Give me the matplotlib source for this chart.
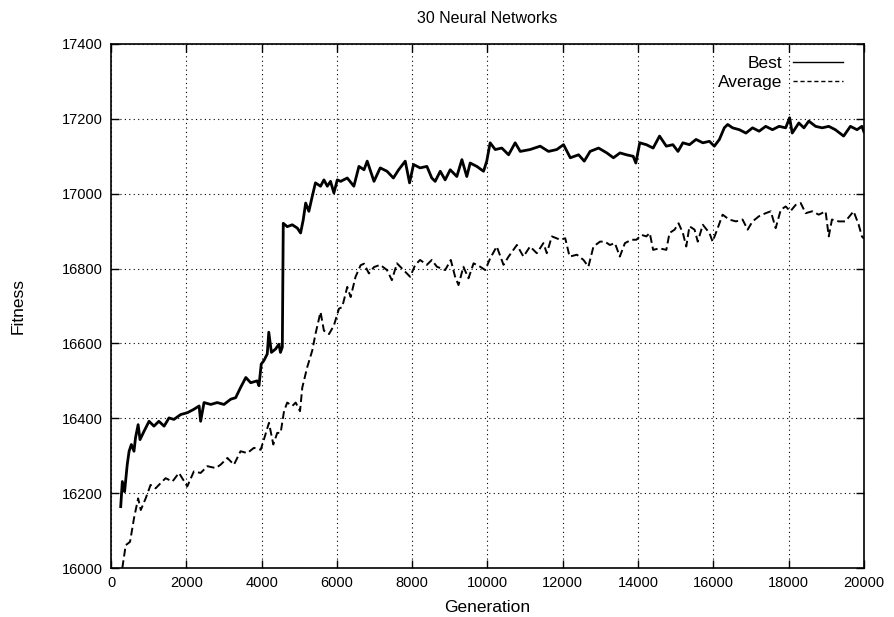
import matplotlib
matplotlib.use('Agg')
import matplotlib.pyplot as plt
from matplotlib.lines import Line2D

plt.rcParams['font.family'] = ['Liberation Sans', 'DejaVu Sans']

# Best fitness
best_gen = [257, 300, 360, 430, 480, 540, 610, 650, 720, 770, 880, 1010, 1140, 1270,
            1410, 1540, 1670, 1850, 2030, 2200, 2340, 2380, 2470, 2650, 2820, 3000,
            3180, 3310, 3440, 3580, 3710, 3880, 3930, 3990, 4060, 4150, 4190, 4260,
            4370, 4460, 4500, 4550, 4575, 4680, 4815, 4950, 5035, 5105, 5170, 5255,
            5345, 5430, 5565, 5655, 5745, 5830, 5920, 6010, 6100, 6275, 6450, 6585,
            6720, 6805, 6895, 6985, 7150, 7330, 7500, 7640, 7815, 7930, 8035, 8210,
            8390, 8520, 8610, 8745, 8875, 9010, 9185, 9320, 9450, 9540, 9715, 9895,
            9980, 10070, 10205, 10380, 10560, 10735, 10870, 11130, 11400, 11620,
            11840, 12020, 12200, 12420, 12570, 12725, 12950, 13170, 13345, 13520,
            13690, 13870, 13940, 14045, 14220, 14400, 14570, 14750, 14925, 15060,
            15190, 15365, 15540, 15720, 15895, 16025, 16160, 16290, 16380, 16510,
            16690, 16865, 17040, 17215, 17390, 17570, 17745, 17920, 18025, 18095,
            18270, 18405, 18535, 18715, 18890, 19065, 19240, 19460, 19640, 19815,
            19945, 20000]
best_fit = [16164, 16231, 16204, 16276, 16312, 16330, 16312, 16348, 16383, 16343,
            16366, 16392, 16379, 16392, 16379, 16401, 16397, 16410, 16415, 16424,
            16433, 16392, 16442, 16437, 16442, 16437, 16451, 16455, 16482, 16509,
            16495, 16500, 16487, 16545, 16554, 16572, 16630, 16576, 16585, 16598,
            16576, 16590, 16921, 16912, 16917, 16908, 16895, 16930, 16975, 16953,
            16993, 17029, 17020, 17037, 17020, 17033, 17002, 17037, 17033, 17042,
            17020, 17073, 17064, 17087, 17060, 17033, 17069, 17060, 17042, 17064,
            17087, 17029, 17078, 17069, 17073, 17042, 17033, 17060, 17037, 17064,
            17046, 17091, 17046, 17082, 17073, 17060, 17087, 17136, 17118, 17122,
            17104, 17136, 17113, 17118, 17127, 17113, 17118, 17131, 17096, 17104,
            17087, 17113, 17122, 17109, 17096, 17109, 17104, 17100, 17082, 17136,
            17131, 17122, 17154, 17127, 17131, 17113, 17136, 17131, 17145, 17136,
            17140, 17127, 17145, 17176, 17185, 17176, 17171, 17162, 17176, 17167,
            17180, 17171, 17180, 17176, 17203, 17162, 17189, 17176, 17194, 17180,
            17176, 17180, 17171, 17154, 17180, 17171, 17180, 17165]

# Average fitness
avg_gen = [300, 390, 505, 610, 720, 790, 920, 1050, 1185, 1320, 1450, 1630, 1805,
           2025, 2200, 2380, 2560, 2780, 2910, 3090, 3265, 3440, 3620, 3795, 3975,
           4060, 4195, 4310, 4415, 4505, 4595, 4680, 4815, 4905, 5020, 5080, 5210,
           5345, 5430, 5565, 5655, 5790, 5920, 6055, 6140, 6275, 6365, 6495, 6630,
           6720, 6850, 6985, 7150, 7330, 7460, 7595, 7770, 7945, 8080, 8210, 8390,
           8520, 8655, 8875, 9025, 9140, 9230, 9360, 9495, 9630, 9805, 9940, 10070,
           10245, 10425, 10560, 10780, 10955, 11130, 11310, 11485, 11575, 11710,
           11930, 12065, 12180, 12375, 12550, 12680, 12815, 12990, 13120, 13250,
           13385, 13515, 13650, 13825, 13955, 14090, 14220, 14310, 14400, 14570,
           14750, 14835, 14970, 15075, 15190, 15280, 15365, 15500, 15585, 15720,
           15895, 15980, 16115, 16245, 16420, 16600, 16775, 16910, 17040, 17215,
           17390, 17525, 17655, 17790, 17920, 18045, 18185, 18320, 18450, 18625,
           18800, 18980, 19065, 19150, 19330, 19505, 19725, 19860, 19945, 20000]
avg_fit = [16000, 16061, 16070, 16133, 16186, 16155, 16186, 16222, 16213, 16227,
           16240, 16231, 16254, 16218, 16258, 16254, 16272, 16267, 16276, 16294,
           16276, 16312, 16307, 16321, 16316, 16343, 16388, 16330, 16361, 16361,
           16419, 16442, 16433, 16442, 16419, 16482, 16536, 16581, 16625, 16684,
           16634, 16625, 16648, 16693, 16697, 16751, 16724, 16778, 16809, 16813,
           16787, 16804, 16810, 16796, 16769, 16814, 16796, 16778, 16810, 16823,
           16810, 16823, 16805, 16796, 16823, 16778, 16756, 16805, 16774, 16814,
           16805, 16796, 16827, 16859, 16810, 16832, 16863, 16832, 16859, 16841,
           16868, 16841, 16886, 16877, 16881, 16832, 16837, 16823, 16805, 16859,
           16872, 16872, 16863, 16868, 16832, 16868, 16877, 16877, 16890, 16886,
           16895, 16850, 16854, 16850, 16895, 16904, 16921, 16895, 16859, 16913,
           16904, 16872, 16917, 16895, 16872, 16908, 16944, 16931, 16926, 16931,
           16904, 16926, 16940, 16948, 16953, 16908, 16957, 16966, 16953, 16970,
           16975, 16948, 16953, 16944, 16953, 16886, 16931, 16926, 16926, 16953,
           16917, 16886, 16880]

fig = plt.figure(figsize=(8.94, 6.17), dpi=100)
ax = fig.add_axes([0.1242, 0.0794, 0.8422, 0.8493])

ax.plot(best_gen, best_fit, color='black', lw=2.0, solid_joinstyle='round')
ax.plot(avg_gen, avg_fit, color='black', lw=1.4, linestyle=(0, (4, 2)))

ax.set_xlim(0, 20000)
ax.set_ylim(16000, 17400)
ax.set_xticks(range(0, 20001, 2000))
ax.set_yticks(range(16000, 17401, 200))
ax.grid(True, color='black', linestyle=(0, (1, 3)), linewidth=0.8)
ax.tick_params(direction='in', top=True, right=True, length=6, width=1, labelsize=10.5, pad=6)
for sp in ax.spines.values():
    sp.set_linewidth(1.2)

ax.set_title('30 Neural Networks', fontsize=11.5, pad=15)
ax.set_xlabel('Generation', fontsize=12.5, labelpad=7)
ax.set_ylabel('Fitness', fontsize=12.5, labelpad=26)

# legend with thin sample lines, text to the left
handles = [Line2D([], [], color='black', lw=1.0),
           Line2D([], [], color='black', lw=1.0, linestyle=(0, (3, 2)))]
ax.legend(handles, ['Best', 'Average'], loc='upper right', bbox_to_anchor=(0.972, 0.978),
          frameon=False, markerfirst=False, handlelength=2.9, fontsize=12.5,
          borderaxespad=0, borderpad=0, labelspacing=0.25, handletextpad=0.6)

plt.savefig('out.png', dpi=100)
plt.close(fig)
